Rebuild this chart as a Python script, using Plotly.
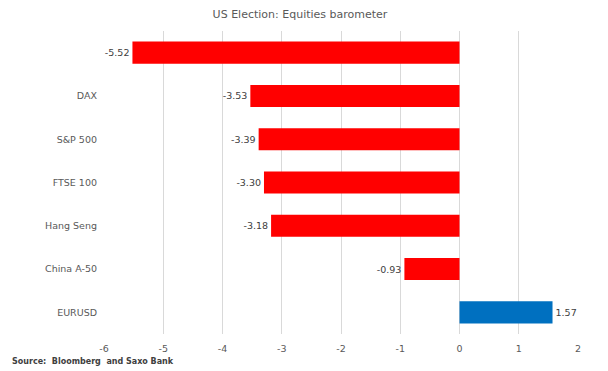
import plotly.graph_objects as go

categories = [" ", "DAX", "S&P 500", "FTSE 100", "Hang Seng", "China A-50", "EURUSD"]
values = [-5.52, -3.53, -3.39, -3.30, -3.18, -0.93, 1.57]
colors = ["#FF0000"] * 6 + ["#0070C0"]
labels = [f"{v:.2f}" for v in values]
xticks = [-6, -5, -4, -3, -2, -1, 0, 1, 2]
xtick_text = [str(t) for t in xticks]

fig = go.Figure(go.Bar(
    y=categories, x=values, orientation="h",
    marker=dict(color=colors, line=dict(width=0)),
    text=labels, textposition="outside", cliponaxis=False,
    textfont=dict(family="DejaVu Sans", size=9.5, color="#404040"),
    width=0.51,
))

fig.update_layout(
    width=600, height=363,
    margin=dict(l=96, r=30, t=23, b=37),
    paper_bgcolor="white", plot_bgcolor="white",
    showlegend=False,
    title=dict(text="US Election: Equities barometer", x=(300 - 8) / 600, xanchor="center",
               y=1 - 6 / 363, yanchor="middle",
               font=dict(family="DejaVu Sans", size=11, color="#595959")),
    font=dict(family="DejaVu Sans", size=9.5, color="#595959"),
    xaxis=dict(range=[-6, 2], tickvals=xticks, ticktext=xtick_text,
               showgrid=True, gridcolor="#D9D9D9", gridwidth=1,
               zeroline=True, zerolinecolor="#D9D9D9", zerolinewidth=1,
               showline=False, ticks="outside", ticklen=6, tickcolor="rgba(0,0,0,0)",
               tickfont=dict(size=9.5, color="#595959")),
    yaxis=dict(autorange="reversed", showgrid=False, showline=False, ticks="",
               ticklabelstandoff=6, tickfont=dict(size=9.5, color="#595959")),
    annotations=[dict(text="<b>Source:  Bloomberg  and Saxo Bank</b>", xref="paper", yref="paper",
                      x=-96/474, y=-(351 - 326)/303, xanchor="left", yanchor="middle", showarrow=False,
                      xshift=2, yshift=-2,
                      font=dict(family="DejaVu Sans", size=8, color="#404040"))],
)

fig.write_html("out.html")
